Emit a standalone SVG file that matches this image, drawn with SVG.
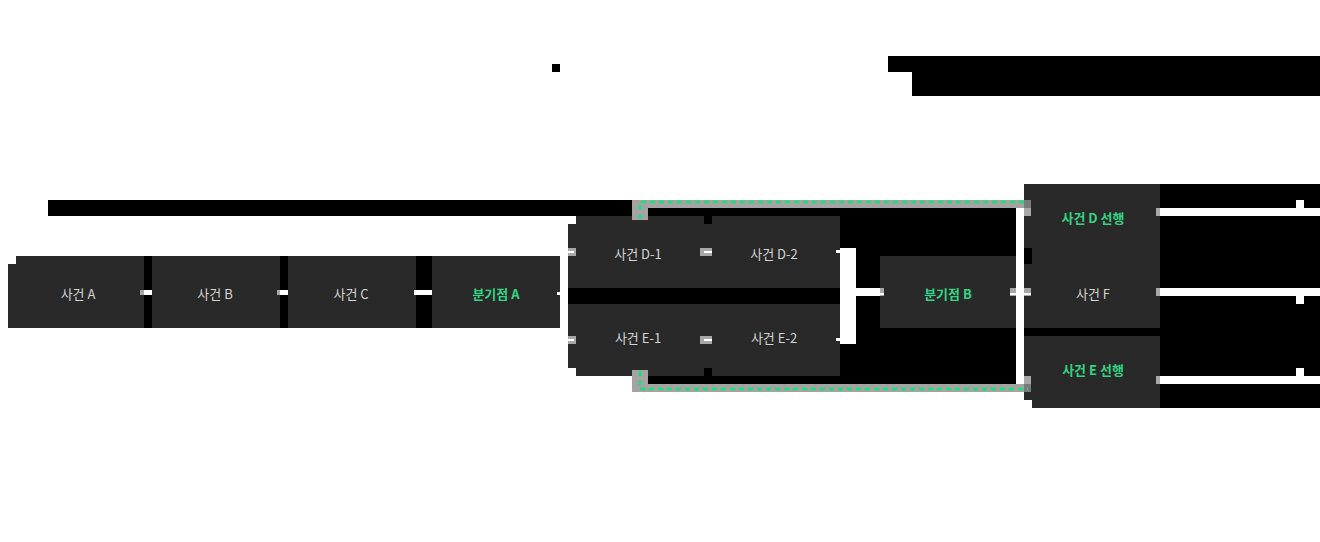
<svg xmlns="http://www.w3.org/2000/svg" width="1320" height="542" viewBox="0 0 1320 542">
<style>
.bg{fill:#000}
.node{fill:#292929}
.t{font-family:"Noto Sans CJK KR","Noto Sans",sans-serif;font-size:13px;fill:#d4d4d4;text-anchor:middle;dominant-baseline:central}
.g{fill:#35d383;font-weight:600}
.w{fill:#fff}
.gr{fill:#a8a8a8}
.halo{fill:#a3a3a3}
.dash{fill:none;stroke:#14e474;stroke-width:2.5;stroke-dasharray:5 4}
</style>
<rect width="1320" height="542" fill="#fff"/>
<g id="backdrop">
<rect class="bg" x="552" y="64" width="8" height="8"/>
<path class="bg" d="M888,56 H1320 V96 H912 V72 H888 Z"/>
<rect class="bg" x="48" y="200" width="584" height="16"/>
<rect class="bg" x="144" y="256" width="8" height="72"/>
<rect class="bg" x="280" y="256" width="8" height="72"/>
<rect class="bg" x="416" y="256" width="16" height="72"/>
<rect class="bg" x="648" y="208" width="368" height="8"/>
<rect class="bg" x="648" y="376" width="368" height="8"/>
<rect class="bg" x="568" y="288" width="272" height="16"/>
<rect class="bg" x="704" y="216" width="8" height="8"/>
<rect class="bg" x="704" y="368" width="8" height="8"/>
<rect class="bg" x="840" y="208" width="176" height="176"/>
<rect class="bg" x="1024" y="248" width="8" height="16"/>
<rect class="bg" x="1024" y="328" width="136" height="8"/>
<rect class="bg" x="1160" y="184" width="160" height="224"/>
</g>
<g id="node-a"><path class="node" d="M16,256 H144 V328 H8 V264 H16 Z"/><text class="t" x="78" y="293">사건 A</text></g>
<g id="node-b"><rect class="node" x="152" y="256" width="128" height="72"/><text class="t" x="215" y="293">사건 B</text></g>
<g id="node-c"><rect class="node" x="288" y="256" width="128" height="72"/><text class="t" x="351" y="293">사건 C</text></g>
<g id="node-branch-a"><rect class="node" x="432" y="256" width="128" height="72"/><text class="t g" x="496" y="293">분기점 A</text></g>
<g id="node-d1"><path class="node" d="M576,216 H704 V224 H712 V288 H568 V224 H576 Z"/><text class="t" x="638" y="253">사건 D-1</text></g>
<g id="node-d2"><rect class="node" x="712" y="216" width="128" height="72"/><text class="t" x="774" y="253">사건 D-2</text></g>
<g id="node-e1"><path class="node" d="M568,304 H712 V368 H704 V376 H576 V368 H568 Z"/><text class="t" x="638" y="337">사건 E-1</text></g>
<g id="node-e2"><rect class="node" x="712" y="304" width="128" height="72"/><text class="t" x="774" y="337">사건 E-2</text></g>
<g id="node-branch-b"><rect class="node" x="880" y="256" width="136" height="72"/><text class="t g" x="948" y="293">분기점 B</text></g>
<g id="node-d-first"><path class="node" d="M1024,184 H1160 V256 H1032 V248 H1024 Z"/><text class="t g" x="1093" y="217">사건 D 선행</text></g>
<g id="node-f"><path class="node" d="M1032,256 H1160 V328 H1024 V264 H1032 Z"/><text class="t" x="1093" y="293">사건 F</text></g>
<g id="node-e-first"><path class="node" d="M1024,336 H1160 V408 H1032 V400 H1024 Z"/><text class="t g" x="1093" y="369">사건 E 선행</text></g>
<g id="connectors">
<rect class="gr" x="140" y="290" width="4" height="5"/><rect class="w" x="144" y="290" width="8" height="5"/>
<rect class="gr" x="277" y="290" width="3" height="5"/><rect class="w" x="280" y="290" width="8" height="5"/>
<rect class="w" x="414" y="290" width="18" height="5"/>
<rect class="w" x="557" y="292" width="3" height="3"/>
<rect class="gr" x="568" y="248" width="8" height="8"/><rect class="w" x="568" y="251" width="6" height="2"/>
<rect class="gr" x="700" y="248" width="12" height="8"/><rect class="w" x="704" y="251" width="8" height="2"/>
<rect class="gr" x="568" y="336" width="8" height="8"/><rect class="w" x="568" y="339" width="6" height="2"/>
<rect class="gr" x="700" y="336" width="12" height="8"/><rect class="w" x="704" y="339" width="8" height="2"/>
<rect class="w" x="836" y="250" width="4" height="3"/>
<rect class="w" x="836" y="338" width="4" height="3"/>
<rect class="w" x="840" y="248" width="16" height="96"/>
<rect class="w" x="856" y="288" width="24" height="8"/>
<rect class="gr" x="880" y="288" width="4" height="8"/><rect class="w" x="880" y="293" width="4" height="2"/>
<rect class="gr" x="1010" y="288" width="6" height="8"/>
<rect class="w" x="1016" y="208" width="8" height="176"/>
<rect class="gr" x="1024" y="208" width="7" height="8"/>
<rect class="gr" x="1024" y="288" width="7" height="8"/>
<rect class="gr" x="1024" y="376" width="7" height="8"/>
<rect class="w" x="1010" y="293" width="21" height="2"/>
<rect class="gr" x="1156" y="208" width="4" height="8"/><rect class="w" x="1160" y="208" width="160" height="8"/><rect class="w" x="1296" y="200" width="8" height="8"/>
<rect class="gr" x="1156" y="288" width="4" height="8"/><rect class="w" x="1160" y="288" width="160" height="8"/><rect class="w" x="1296" y="296" width="8" height="8"/>
<rect class="gr" x="1156" y="376" width="4" height="8"/><rect class="w" x="1160" y="376" width="160" height="8"/><rect class="w" x="1296" y="368" width="8" height="8"/>
<rect class="halo" x="632" y="200" width="16" height="20"/>
<rect class="halo" x="632" y="200" width="392" height="8"/>
<rect fill="#7a7a7a" x="1024" y="200" width="7" height="8"/>
<path class="dash" d="M640,219 V202 H1028"/>
<rect class="halo" x="632" y="370" width="16" height="22"/>
<rect class="halo" x="632" y="384" width="392" height="8"/>
<rect fill="#7a7a7a" x="1024" y="384" width="7" height="8"/>
<path class="dash" d="M640,371 V389 H1028"/>
</g>
</svg>
